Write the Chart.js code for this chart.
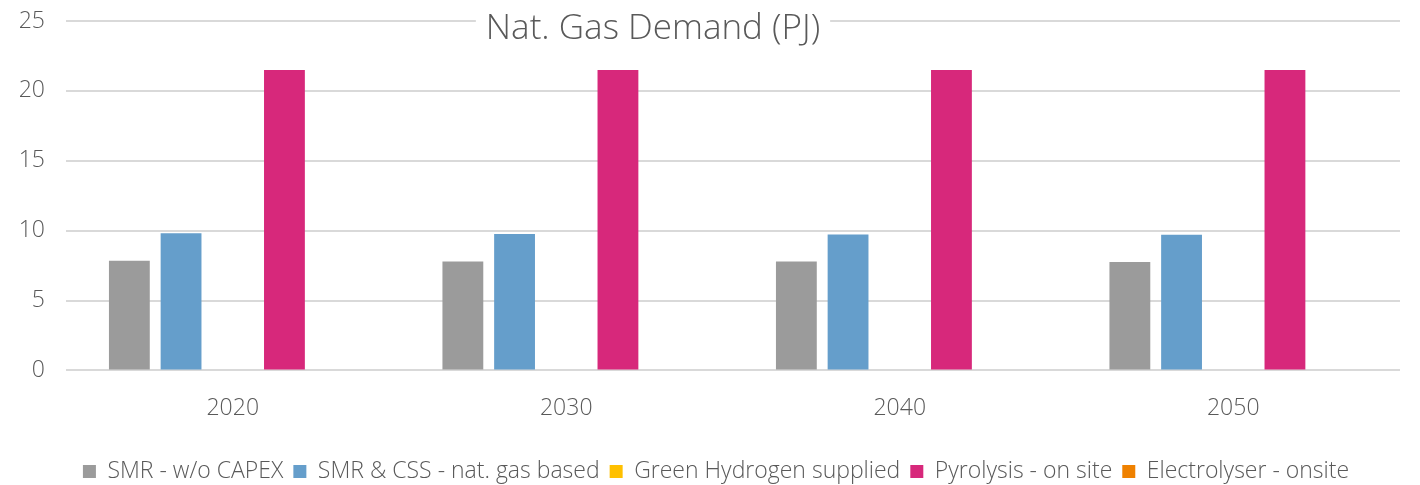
<!DOCTYPE html>
<html>
<head>
<meta charset="utf-8">
<script src="https://cdn.jsdelivr.net/npm/chart.js@4.4.0/dist/chart.umd.min.js"></script>
<style>
  html, body { margin: 0; padding: 0; background: #fff; }
  #wrap { width: 1420px; height: 485px; }
</style>
</head>
<body>
<div id="wrap"><canvas id="myChart"></canvas></div>
<script>
// categories and series (PJ)
const years = ['2020', '2030', '2040', '2050'];
const smrNoCapex = [7.85, 7.8, 7.8, 7.75];
const smrCss = [9.81, 9.76, 9.73, 9.71];
const greenH2 = [0, 0, 0, 0];
const pyrolysis = [21.5, 21.5, 21.5, 21.5];
const electrolyser = [0, 0, 0, 0];
const yTicks = [0, 5, 10, 15, 20, 25];

const chartTitle = 'Nat. Gas Demand (PJ)';
const fontFamily = '"Open Sans", "Noto Sans", sans-serif';

// title sits on top of the 25 gridline with a white box behind it
const titlePlugin = {
  id: 'overlayTitle',
  afterDraw(chart) {
    const ctx = chart.ctx;
    const y = chart.scales.y.getPixelForValue(25);
    ctx.save();
    ctx.font = '300 35px ' + fontFamily;
    const w = ctx.measureText(chartTitle).width;
    const cx = 653;
    ctx.fillStyle = '#fff';
    ctx.fillRect(cx - w / 2 - 10, y - 4, w + 20, 34);
    ctx.fillStyle = '#595959';
    ctx.textAlign = 'center';
    ctx.textBaseline = 'middle';
    ctx.fillText(chartTitle, cx, y + 8);
    ctx.restore();
  }
};

function makeSet(label, data, color) {
  return {
    label: label,
    data: data,
    backgroundColor: color,
    borderWidth: 0,
    barPercentage: 0.79,
    categoryPercentage: 0.775
  };
}

new Chart(document.querySelector('#myChart'), {
  type: 'bar',
  data: {
    labels: years,
    datasets: [
      makeSet('SMR - w/o CAPEX', smrNoCapex, '#9b9b9b'),
      makeSet('SMR & CSS - nat. gas based', smrCss, '#659ecb'),
      makeSet('Green Hydrogen supplied', greenH2, '#ffc000'),
      makeSet('Pyrolysis - on site', pyrolysis, '#d7287b'),
      makeSet('Electrolyser - onsite', electrolyser, '#ef8100')
    ]
  },
  options: {
    responsive: true,
    maintainAspectRatio: false,
    animation: false,
    layout: { padding: { left: 12, right: 0, top: 21, bottom: -8 } },
    plugins: {
      title: { display: false },
      tooltip: { enabled: false },
      legend: {
        position: 'bottom',
        labels: {
          boxWidth: 13,
          boxHeight: 13,
          padding: 10,
          color: '#595959',
          font: { family: fontFamily, size: 23, weight: 300 }
        }
      }
    },
    scales: {
      x: {
        grid: { display: false, drawTicks: false },
        border: { display: false },
        afterFit(scale) { scale.height += 4; },
        ticks: {
          color: '#595959',
          padding: 24,
          font: { family: fontFamily, size: 23, weight: 300 }
        }
      },
      y: {
        min: 0,
        max: 25,
        afterBuildTicks(axis) {
          axis.ticks = yTicks.map(v => ({ value: v }));
        },
        afterFit(scale) {
          scale.width = 54;
          scale.paddingTop = 0;
          scale.paddingBottom = 0;
        },
        grid: { color: '#d9d9d9', lineWidth: 2, drawTicks: false },
        border: { display: false },
        ticks: {
          color: '#595959',
          padding: 21,
          font: { family: fontFamily, size: 23, weight: 300 }
        }
      },
      // empty axis on the right, only keeps the plot clear of the edge
      yRight: {
        position: 'right',
        grid: { display: false, drawTicks: false },
        border: { display: false },
        ticks: { display: false },
        afterFit(scale) {
          scale.width = 20;
          scale.paddingTop = 0;
          scale.paddingBottom = 0;
        }
      }
    }
  },
  plugins: [titlePlugin]
});
</script>
</body>
</html>
